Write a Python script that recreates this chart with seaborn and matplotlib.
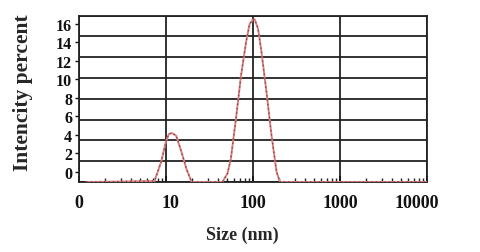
import numpy as np
import pandas as pd
import matplotlib
matplotlib.use("Agg")
import matplotlib.pyplot as plt
import matplotlib.transforms as mtransforms
import seaborn as sns
from matplotlib.ticker import LinearLocator, FixedLocator, LogLocator, NullFormatter

# ---- data ----
size_nm = [1.22, 7.38, 8.81, 10.0, 10.8, 11.7, 13.1, 15.0, 17.2, 19.7,
           44.4, 50.8, 55.6, 63.6, 72.8, 83.4, 91.4, 100.0, 104.6, 114.3,
           125.0, 143.0, 163.4, 186.6, 204.0, 10000]
intensity = [-1.1, -1.0, 1.1, 3.3, 4.1, 4.2, 3.9, 2.2, 0.3, -1.1,
             -1.1, -0.2, 1.4, 5.7, 10.4, 14.1, 16.0, 16.5, 16.5, 15.5,
             13.0, 8.6, 3.9, 0.0, -1.1, -1.1]
x_ticks = [1, 10, 100, 1000, 10000]
x_labels = ["0", "10", "100", "1000", "10000"]
y_ticks = [0, 2, 4, 6, 8, 10, 12, 14, 16]
y_labels = [str(v) for v in y_ticks]

df = pd.DataFrame({"size": size_nm, "intensity": intensity})

sns.set_style("white")
plt.rcParams["font.family"] = ["Liberation Serif", "DejaVu Serif"]
plt.rcParams["font.weight"] = "bold"

fig = plt.figure(figsize=(4.8, 2.53), dpi=100)
ax = fig.add_axes([0.1646, 0.2767, 0.7250, 0.6573])

sns.lineplot(data=df, x="size", y="intensity", ax=ax, color="#d98080",
             linewidth=1.4, estimator=None, sort=False, zorder=3)
sns.lineplot(data=df, x="size", y="intensity", ax=ax, color="#7a3a3a",
             linewidth=0.9, estimator=None, sort=False, linestyle=(0, (1, 2.5)),
             zorder=4)

ax.set_xscale("log")
ax.set_xlim(1, 10000)
ax.set_ylim(-1.1, 16.9)

ax.xaxis.set_major_locator(FixedLocator(x_ticks))
ax.set_xticks(x_ticks)
ax.set_xticklabels(x_labels)
ax.xaxis.set_minor_locator(LogLocator(base=10, subs=np.arange(2, 10)))
ax.xaxis.set_minor_formatter(NullFormatter())
ax.tick_params(axis="x", which="major", direction="in", length=4, width=1.2,
               pad=9, labelsize=13, colors="#111111", bottom=True)
ax.tick_params(axis="x", which="minor", direction="in", length=3, width=1.0,
               bottom=True, colors="#222222")

ax.set_yticks(y_ticks)
ax.set_yticklabels(y_labels)
ax.yaxis.set_minor_locator(LinearLocator(9))
ax.tick_params(axis="y", which="major", direction="out", length=3, width=1.0,
               pad=2, labelsize=11.5, colors="#111111", left=True)
ax.tick_params(axis="y", which="minor", length=0)

ax.grid(False)
ax.grid(True, which="minor", axis="y", color="#222222", linewidth=1.3)
ax.grid(True, which="major", axis="x", color="#222222", linewidth=1.3)

for s in ax.spines.values():
    s.set_color("#222222")
    s.set_linewidth(1.3)

ax.set_xlabel("Size (nm)", fontsize=13, fontweight="bold")
ax.set_ylabel("Intencity percent", fontsize=15.5, fontweight="bold")
ax.xaxis.set_label_coords(0.468, -0.265)
ax.yaxis.set_label_coords(-0.132, 0.544)

for lab in ax.get_xticklabels() + ax.get_yticklabels():
    lab.set_fontweight("bold")

# small horizontal nudges of x tick labels as in the reference
xlabs = ax.get_xticklabels()
shift = [0, 4, 0, 0, -10]
for lab, dx in zip(xlabs, shift):
    lab.set_transform(lab.get_transform() +
                      mtransforms.ScaledTranslation(dx / 100, 0, fig.dpi_scale_trans))

fig.savefig("out.png", dpi=100)
